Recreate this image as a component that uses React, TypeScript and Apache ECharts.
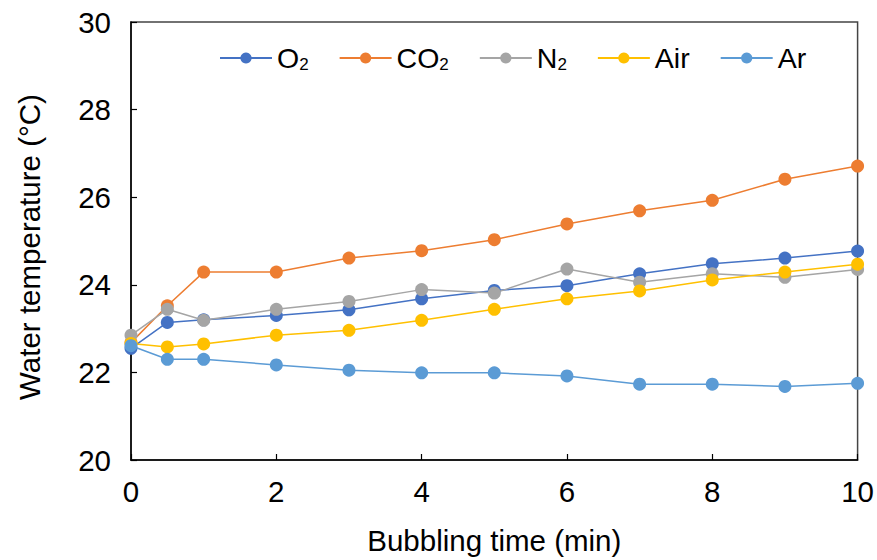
import React, { useEffect, useRef } from "react";
import * as echarts from "echarts";

const times = [0, 0.5, 1, 2, 3, 4, 5, 6, 7, 8, 9, 10];
const o2 = [22.55, 23.14, 23.2, 23.3, 23.43, 23.68, 23.87, 23.98, 24.25, 24.48, 24.61, 24.77];
const co2 = [22.68, 23.52, 24.29, 24.29, 24.61, 24.78, 25.03, 25.39, 25.69, 25.93, 26.41, 26.71];
const n2 = [22.85, 23.44, 23.19, 23.44, 23.62, 23.89, 23.81, 24.36, 24.06, 24.25, 24.17, 24.35];
const air = [22.66, 22.58, 22.65, 22.85, 22.96, 23.19, 23.44, 23.68, 23.86, 24.11, 24.29, 24.47];
const ar = [22.61, 22.3, 22.3, 22.17, 22.05, 21.99, 21.99, 21.92, 21.73, 21.73, 21.68, 21.75];

const seriesNames = ["O2", "CO2", "N2", "Air", "Ar"];
const seriesValues = [o2, co2, n2, air, ar];
const colors = ["#4472C4", "#ED7D31", "#A5A5A5", "#FFC000", "#5B9BD5"];

const FONT = "'Liberation Sans', Arial, Helvetica, sans-serif";

export default function App() {
  const ref = useRef<HTMLDivElement>(null);
  useEffect(() => {
    if (!ref.current) return;
    const chart = echarts.init(ref.current, undefined, { renderer: "svg" });
    chart.setOption({
      animation: false,
      textStyle: { fontFamily: FONT },
      grid: {
        left: 131,
        right: 19,
        top: 22,
        bottom: 98,
        show: true,
        borderColor: "#444",
        borderWidth: 1.5,
        containLabel: false,
      },
      legend: {
        left: 219,
        top: 43,
        padding: 0,
        itemWidth: 52,
        itemHeight: 14,
        itemGap: 30,
        data: seriesNames,
        textStyle: {
          fontFamily: FONT,
          fontSize: 28.5,
          color: "#000",
          lineHeight: 30,
          rich: {
            s: { fontSize: 17, fontFamily: FONT, color: "#000", verticalAlign: "bottom", lineHeight: 22 },
          },
        },
        formatter: (name: string) => name.replace("2", "{s|2}"),
      },
      xAxis: {
        type: "value",
        min: 0,
        max: 10,
        interval: 2,
        name: "Bubbling time (min)",
        nameLocation: "middle",
        nameGap: 65,
        nameTextStyle: { fontSize: 29.5, color: "#000", fontFamily: FONT },
        axisLine: { show: true, lineStyle: { color: "#000", width: 1.5 } },
        axisTick: { show: true, inside: true, length: 6, lineStyle: { color: "#000", width: 1.2 } },
        axisLabel: { fontSize: 29.5, color: "#000", margin: 16, fontFamily: FONT },
        splitLine: { show: false },
      },
      yAxis: {
        type: "value",
        min: 20,
        max: 30,
        interval: 2,
        name: "Water temperature (°C)",
        nameLocation: "middle",
        nameRotate: 90,
        nameGap: 87,
        nameTextStyle: { fontSize: 29.5, color: "#000", fontFamily: FONT, padding: [0, 12, 0, 0] },
        axisLine: { show: true, lineStyle: { color: "#000", width: 1.5 } },
        axisTick: { show: true, inside: true, length: 6, lineStyle: { color: "#000", width: 1.2 } },
        axisLabel: { fontSize: 29.5, color: "#000", margin: 20, fontFamily: FONT },
        splitLine: { show: false },
      },
      series: seriesNames.map((name, i) => ({
        name,
        type: "line",
        data: times.map((t, j) => [t, seriesValues[i][j]]),
        symbol: "circle",
        symbolSize: 13,
        showSymbol: true,
        color: colors[i],
        itemStyle: { color: colors[i] },
        lineStyle: { color: colors[i], width: 1.5 },
        z: 2 + i,
      })),
    });
    return () => chart.dispose();
  }, []);
  return (
    <div
      ref={ref}
      style={{ position: "fixed", left: 0, top: 0, width: 877, height: 560, background: "#fff" }}
    />
  );
}
